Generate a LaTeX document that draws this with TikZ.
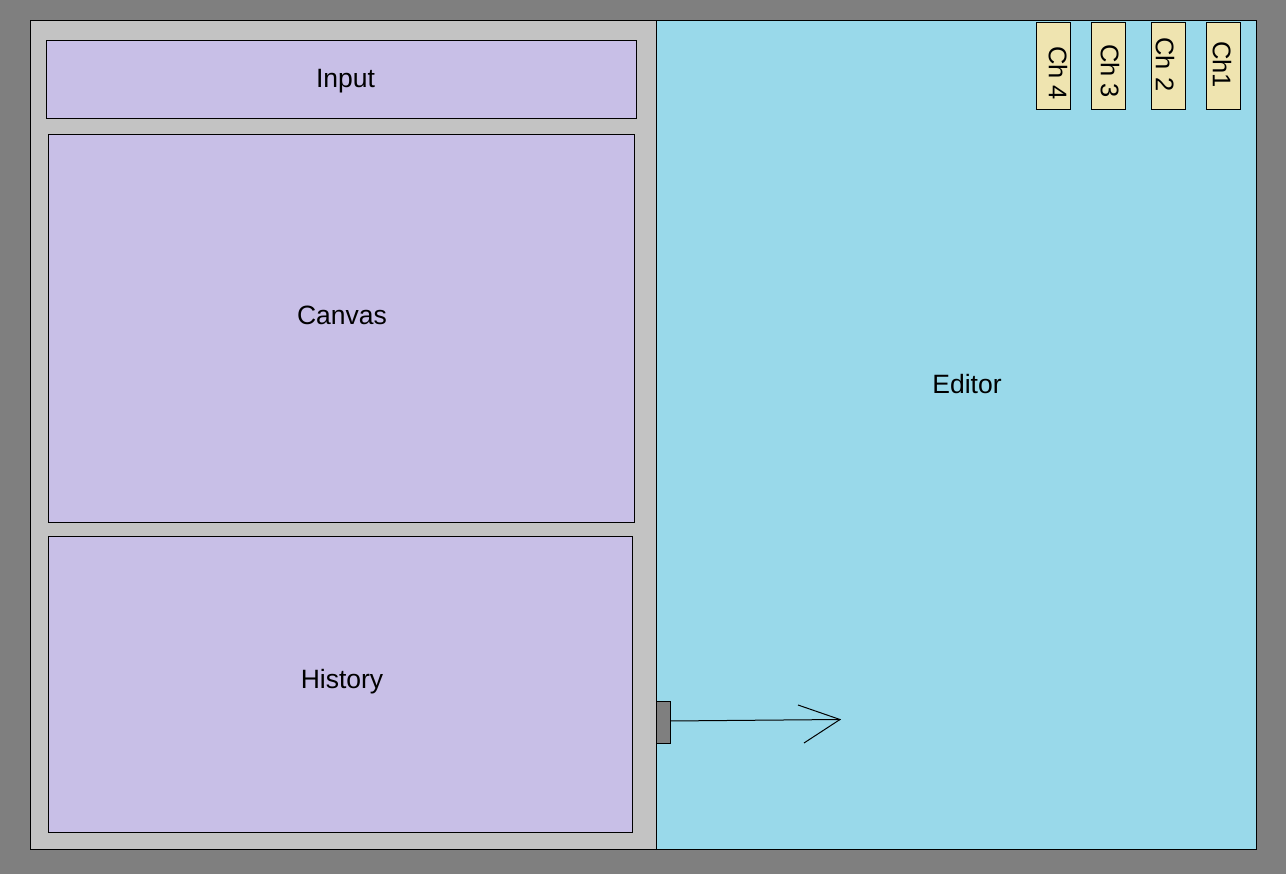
\documentclass[tikz,border=0pt]{standalone}
\usepackage{fontspec}
\setmainfont{Liberation Sans}
\definecolor{bggray}{RGB}{127,127,127}
\definecolor{panelgray}{RGB}{195,195,195}
\definecolor{lavender}{RGB}{200,191,231}
\definecolor{turq}{RGB}{153,217,234}
\definecolor{beige}{RGB}{239,228,176}
\tikzset{
  box/.style={draw=black, line width=1pt, rectangle, inner sep=0pt, outer sep=0pt, anchor=north west},
  lbl/.style={font=\fontsize{26.5}{30}\selectfont, inner sep=0pt, anchor=base},
  tablbl/.style={font=\fontsize{25.5}{30}\selectfont, inner sep=0pt, rotate=-90, anchor=center},
  conn/.style={draw=black, line width=1pt}
}
\begin{document}
\begin{tikzpicture}[x=1pt,y=-1pt]
\useasboundingbox (0,0) rectangle (1286,874);
\fill[bggray] (0,0) rectangle (1286,874);
% main containers
\node[box, fill=panelgray, minimum width=626, minimum height=828] (left) at (30,21) {};
\node[box, fill=turq, minimum width=600, minimum height=828] (editor) at (656,21) {};
% left sub-panels
\node[box, fill=lavender, minimum width=590, minimum height=78] (input) at (46,41) {};
\node[box, fill=lavender, minimum width=586, minimum height=388] (canvas) at (48,135) {};
\node[box, fill=lavender, minimum width=584, minimum height=296] (history) at (48,536) {};
% tabs
\node[box, fill=beige, minimum width=34, minimum height=87] (ch4) at (1036,23) {};
\node[box, fill=beige, minimum width=34, minimum height=87] (ch3) at (1091,23) {};
\node[box, fill=beige, minimum width=34, minimum height=87] (ch2) at (1151,23) {};
\node[box, fill=beige, minimum width=34, minimum height=87] (ch1) at (1206,23) {};
% labels
\node[lbl] (tinput) at (345.5,88) {Input};
\node[lbl] (tcanvas) at (342,325) {Canvas};
\node[lbl] (thistory) at (342,688) {History};
\node[lbl] (teditor) at (967,394) {Editor};
\node[tablbl] (tch4) at (1058,73) {Ch 4};
\node[tablbl] (tch3) at (1110,71) {Ch 3};
\node[tablbl] (tch2) at (1165,64.5) {Ch 2};
\node[tablbl] (tch1) at (1222,64.5) {Ch1};
% handle and arrow
\node[box, fill=bggray, minimum width=14, minimum height=42] (handle) at (656,701) {};
\coordinate (tip) at (840,719.5);
\coordinate (wingup) at (798,705);
\coordinate (winglo) at (804,743);
\draw[conn] (handle.east |- 0,721) -- (tip);
\draw[conn] (wingup) -- (tip) -- (winglo);
\end{tikzpicture}
\end{document}
